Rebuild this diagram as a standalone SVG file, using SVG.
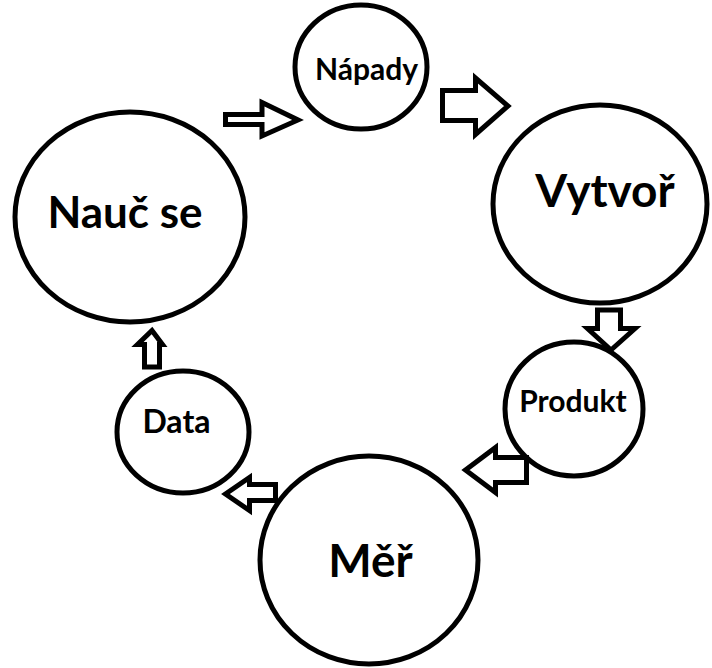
<svg xmlns="http://www.w3.org/2000/svg" width="712" height="668" viewBox="0 0 712 668">
  <style>
    .node { fill: none; stroke: #000; stroke-width: 5; }
    .label { font-family: Lato, "Open Sans", "Liberation Sans", sans-serif; font-weight: bold; fill: #000; text-anchor: middle; }
    .big { font-size: 44px; }
    .small { font-size: 30px; }
    .flow { fill: #fff; stroke: #000; stroke-width: 5; stroke-linejoin: miter; }
  </style>
  <rect width="712" height="668" fill="#fff"/>

  <g id="connectors">
    <!-- Nauč se -> Nápady -->
    <path class="flow" d="M225.5,114.5 H262 V102.5 L298,120 L262,136 V124.5 H225.5 Z"/>
    <!-- Nápady -> Vytvoř -->
    <path class="flow" d="M442.5,90.5 H475.5 V78 L508,106 L475.5,134.5 V120.5 H442.5 Z"/>
    <!-- Vytvoř -> Produkt -->
    <path class="flow" d="M597.5,310 H620.5 V328.5 H635 L611,350 L587.5,328.5 H597.5 Z"/>
    <!-- Produkt -> Měř -->
    <path class="flow" d="M526.5,457.5 V482.5 H495.5 V492.5 L465.5,470 L495.5,447.5 V457.5 Z"/>
    <!-- Měř -> Data -->
    <path class="flow" d="M275.5,484.5 V500.5 H249.5 V510.5 L225.5,494 L249.5,477.5 V484.5 Z"/>
    <!-- Data -> Nauč se -->
    <path class="flow" d="M144.5,367 V344.5 H137.5 L152,330.5 L162.5,344.5 H159.5 V367 Z"/>
  </g>

  <g id="node-nauc-se">
    <ellipse class="node" cx="130" cy="217" rx="115" ry="105"/>
    <text class="label big" x="125" y="228">Nauč se</text>
  </g>
  <g id="node-napady">
    <ellipse class="node" cx="361" cy="67" rx="66" ry="62"/>
    <text class="label small" x="366.5" y="80">Nápady</text>
  </g>
  <g id="node-vytvor">
    <ellipse class="node" cx="600" cy="204" rx="107" ry="99"/>
    <text class="label big" x="605" y="207" style="font-size:46px">Vytvoř</text>
  </g>
  <g id="node-produkt">
    <ellipse class="node" cx="574" cy="409" rx="69" ry="67"/>
    <text class="label small" x="573" y="412">Produkt</text>
  </g>
  <g id="node-data">
    <ellipse class="node" cx="183" cy="432" rx="66" ry="61"/>
    <text class="label small" x="176.5" y="433" style="font-size:32px">Data</text>
  </g>
  <g id="node-mer">
    <ellipse class="node" cx="369" cy="560" rx="109" ry="104"/>
    <text class="label big" x="370.5" y="577" style="font-size:46px">Měř</text>
  </g>
</svg>
